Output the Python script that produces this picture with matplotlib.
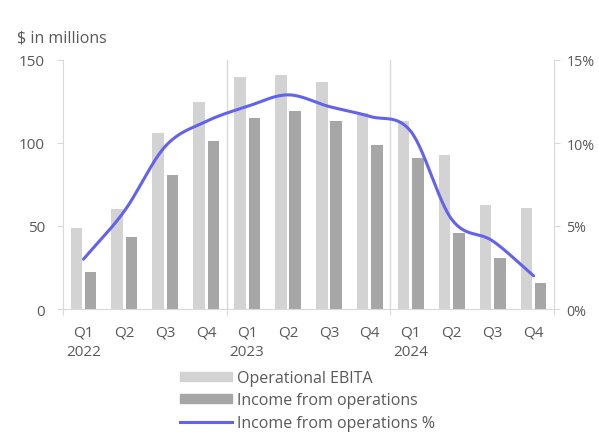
import numpy as np
import matplotlib.pyplot as plt
from matplotlib.patches import Patch
from matplotlib.lines import Line2D

# dados
quarters = ["Q1", "Q2", "Q3", "Q4"] * 3
years = ["2022", "", "", "", "2023", "", "", "", "2024", "", "", ""]
ebita = [49, 60, 106, 125, 140, 141, 137, 118, 113, 93, 62.5, 61]
income = [22.5, 43.5, 81, 101, 115, 119, 113, 99, 91, 46, 31, 15.7]
income_pct = [3.0, 5.9, 9.8, 11.3, 12.2, 12.9, 12.2, 11.6, 10.7, 5.4, 4.1, 2.0]

plt.rcParams['font.family'] = ['Open Sans', 'DejaVu Sans']
txt_color = '#595959'
axis_color = '#d9d9d9'
c_ebita = '#d3d3d3'
c_income = '#a6a6a6'
c_line = '#6262ee'


def smooth(xs, ys, n=30):
    # curva suavizada (catmull-rom) so para desenhar a linha
    xs = np.asarray(xs, float)
    ys = np.asarray(ys, float)
    px = np.concatenate([[2 * xs[0] - xs[1]], xs, [2 * xs[-1] - xs[-2]]])
    py = np.concatenate([[2 * ys[0] - ys[1]], ys, [2 * ys[-1] - ys[-2]]])
    out_x, out_y = [], []
    t = np.linspace(0, 1, n)
    for i in range(1, len(px) - 2):
        for p, out in ((px, out_x), (py, out_y)):
            p0, p1, p2, p3 = p[i - 1], p[i], p[i + 1], p[i + 2]
            m1 = (p2 - p0) / 2
            m2 = (p3 - p1) / 2
            h00 = 2 * t**3 - 3 * t**2 + 1
            h10 = t**3 - 2 * t**2 + t
            h01 = -2 * t**3 + 3 * t**2
            h11 = t**3 - t**2
            out.extend(h00 * p1 + h10 * m1 + h01 * p2 + h11 * m2)
    return out_x, out_y


fig = plt.figure(figsize=(5.99, 4.35), dpi=100)
ax = fig.add_axes([63 / 599, 1 - 310 / 435, 491 / 599, 249 / 435])

x = np.arange(len(quarters))
w = 0.28
ax.bar(x - 0.175, ebita, w, color=c_ebita, zorder=2)
ax.bar(x + 0.175, income, w, color=c_income, zorder=2)

ax.set_xlim(-0.5, 11.5)
ax.set_ylim(0, 150)
ax.set_yticks([0, 50, 100, 150])

for xs in [3.5, 7.5]:
    ax.axvline(xs, color=axis_color, lw=1, zorder=1)

ax.set_xticks([-0.5, 3.5, 7.5, 11.5])
ax.set_xticklabels([])
ax.set_xticks(x, minor=True)
ax.set_xticklabels([f"{q}\n{y}" for q, y in zip(quarters, years)], minor=True,
                   linespacing=1.45)
ax.tick_params(axis='x', which='major', length=4, color=axis_color)
ax.tick_params(axis='x', which='minor', length=0, pad=11, labelsize=11, labelcolor=txt_color)
ax.tick_params(axis='y', length=4, color=axis_color, pad=9, labelsize=11, labelcolor=txt_color)

for s in ['top', 'right']:
    ax.spines[s].set_visible(False)
for s in ['left', 'bottom']:
    ax.spines[s].set_color(axis_color)

ax2 = ax.twinx()
ax2.set_ylim(0, 15)
ax2.set_yticks([0, 5, 10, 15])
ax2.set_yticklabels(["0%", "5%", "10%", "15%"])
ax2.tick_params(axis='y', length=4, color=axis_color, pad=5, labelsize=10.3, labelcolor=txt_color)
for s in ['top', 'left', 'bottom']:
    ax2.spines[s].set_visible(False)
ax2.spines['right'].set_color(axis_color)

sx, sy = smooth(x, income_pct)
ax2.plot(sx, sy, color=c_line, lw=2.2, solid_capstyle='round', zorder=3)

fig.text(17 / 599, 1 - 38 / 435, "$ in millions", color=txt_color, fontsize=11.5, va='center')

handles = [Patch(color=c_ebita), Patch(color=c_income), Line2D([], [], color=c_line, lw=2.2)]
labels = ["Operational EBITA", "Income from operations", "Income from operations %"]
fig.legend(handles, labels, loc='upper left', bbox_to_anchor=(180 / 599, 1 - 371 / 435),
           frameon=False, fontsize=11.5, handlelength=3.25, handleheight=0.45,
           handletextpad=0.3, labelspacing=0.4, labelcolor=txt_color,
           borderaxespad=0, borderpad=0)

fig.savefig("out.png", dpi=100)
